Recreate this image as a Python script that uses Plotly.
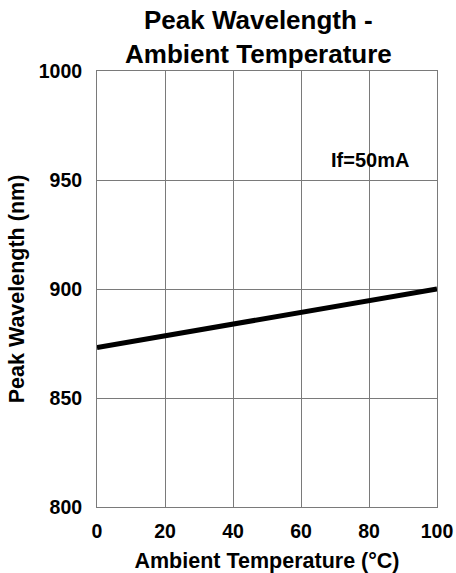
import plotly.graph_objects as go

temperature = [0, 20, 40, 60, 80, 100]
wavelength = [873.2, 878.6, 884.2, 889.5, 894.7, 900.0]
x_ticks = [0, 20, 40, 60, 80, 100]
y_ticks = [800, 850, 900, 950, 1000]

FONT = "Liberation Sans, Arial, sans-serif"
GRID = "#7a7a7a"

fig = go.Figure()
fig.add_trace(go.Scatter(x=temperature, y=wavelength, mode="lines",
                         line=dict(color="black", width=5), showlegend=False,
                         hoverinfo="skip"))

fig.add_annotation(x=80.3, y=959, xref="x", yref="y", text="<b>If=50mA</b>",
                   showarrow=False, font=dict(family=FONT, size=20, color="black"))

# chart title (two lines)
fig.add_annotation(x=0.476, y=1, xref="paper", yref="paper", xanchor="center",
                   yanchor="bottom", yshift=0, showarrow=False,
                   text="<b>Peak Wavelength -<br>Ambient Temperature</b>",
                   font=dict(family=FONT, size=26, color="black"))

fig.update_layout(
    width=456, height=573,
    margin=dict(l=97, r=19, t=71, b=66),
    paper_bgcolor="white", plot_bgcolor="white",
    font=dict(family=FONT, color="black"),
)
fig.update_xaxes(range=[0, 100], tickvals=x_ticks, automargin=False,
                 ticktext=[f"<b>{v}</b>" for v in x_ticks],
                 tickfont=dict(family=FONT, size=19.5, color="black"),
                 showgrid=True, gridcolor=GRID, gridwidth=1,
                 showline=True, linecolor=GRID, linewidth=1, mirror=True,
                 zeroline=False, ticks="", ticklabelstandoff=7,
                 title=dict(text="<b>Ambient Temperature (°C)</b>", standoff=12,
                            font=dict(family=FONT, size=21.5, color="black")))
fig.update_yaxes(range=[800, 1000], tickvals=y_ticks, automargin=False,
                 ticktext=[f"<b>{v}</b>" for v in y_ticks],
                 tickfont=dict(family=FONT, size=19.5, color="black"),
                 showgrid=True, gridcolor=GRID, gridwidth=1,
                 showline=True, linecolor=GRID, linewidth=1, mirror=True,
                 zeroline=False, ticks="", ticklabelstandoff=10,
                 title=dict(text="<b>Peak Wavelength (nm)</b>", standoff=8,
                            font=dict(family=FONT, size=21.5, color="black")))

fig.write_html("out.html", config={"displayModeBar": False},
               post_script="document.body.style.margin='0';document.body.style.overflow='hidden';")
